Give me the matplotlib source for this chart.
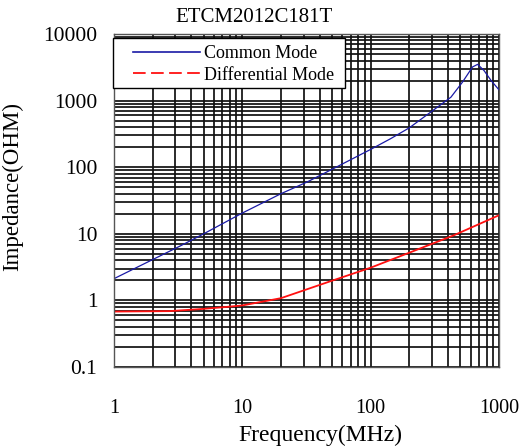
import numpy as np
import matplotlib
matplotlib.use("Agg")
import matplotlib.pyplot as plt
from matplotlib.lines import Line2D
from matplotlib.patches import Rectangle

# Common mode impedance
cm_freq = [1, 2, 3.3, 5, 10, 20, 32, 50, 100, 143, 200, 294, 422, 520, 622, 681, 764, 868, 1000]
cm_z = [2.12, 4.1, 6.6, 10, 20.5, 40, 60, 93, 185, 268, 390, 673, 1125, 1900, 3200, 3500, 2830, 2000, 1450]

# Differential mode impedance
dm_freq = [1, 2.7, 4.7, 7.1, 10, 20, 49, 100, 205, 445, 1000]
dm_z = [0.68, 0.69, 0.74, 0.79, 0.84, 1.08, 1.95, 3.1, 5.3, 9.5, 19]

title = "ETCM2012C181T"
x_ticks = [1, 10, 100, 1000]
y_ticks = [0.1, 1, 10, 100, 1000, 10000]

plt.rcParams['font.family'] = ['Liberation Serif', 'DejaVu Serif']

fig = plt.figure(figsize=(5.19, 4.48), dpi=100)
ax = fig.add_axes([114/519, 1-367/448, 385/519, 333/448])

# curves
ax.plot(cm_freq, cm_z, color="#1a1aa6", lw=0.9)
ax.plot(dm_freq, dm_z, color="#ff1010", lw=1.3)

ax.set_xscale("log")
ax.set_yscale("log")
ax.set_xlim(1, 1000)
ax.set_ylim(0.1, 10000)

# grid - major and minor all black
ax.grid(True, which="both", color="#111111", lw=1.25)
ax.set_axisbelow(True)
ax.tick_params(which="both", length=0)
ax.set_xticks(x_ticks)
ax.set_xticklabels([str(v) for v in x_ticks], fontsize=14.5)
ax.set_yticks(y_ticks)
ax.set_yticklabels([str(v) for v in y_ticks], fontsize=15.5)
ax.tick_params(axis="x", pad=23)
ax.tick_params(axis="y", pad=12)
ax.xaxis.set_minor_formatter(plt.NullFormatter())
ax.yaxis.set_minor_formatter(plt.NullFormatter())
for s in ax.spines.values():
    s.set_color("#555555")
    s.set_linewidth(1.0)

ax.set_xlabel("Frequency(MHz)", fontsize=17)
ax.xaxis.set_label_coords((320-114)/385, (367-425)/333)
ax.set_ylabel("Impedance(OHM)", fontsize=16.5)
ax.yaxis.set_label_coords((23-114)/385, (367-186)/333)
fig.text(254/519, 1-18/448, title, fontsize=15, ha="center", va="center")

# legend box (frame drawn separately so the padding matches)
box = Rectangle((113/519, 1-88/448), 232/519, 50/448, transform=fig.transFigure,
                facecolor="white", edgecolor="black", lw=1.0, zorder=4)
ax.add_artist(box)
box.set_clip_on(False)
handles = [Line2D([], [], color="#1a1aa6", lw=1.2),
           Line2D([], [], color="#ff1010", lw=1.3, dashes=(7, 3))]
leg = ax.legend(handles, ["Common Mode", "Differential Mode"],
                loc="upper left", bbox_to_anchor=(126/519, 1-38/448),
                bbox_transform=fig.transFigure, borderaxespad=0,
                fontsize=13, frameon=False,
                handlelength=3.7, handletextpad=0.2, borderpad=0.4,
                labelspacing=0.25)
leg.set_zorder(5)

fig.savefig("out.png", dpi=100)
